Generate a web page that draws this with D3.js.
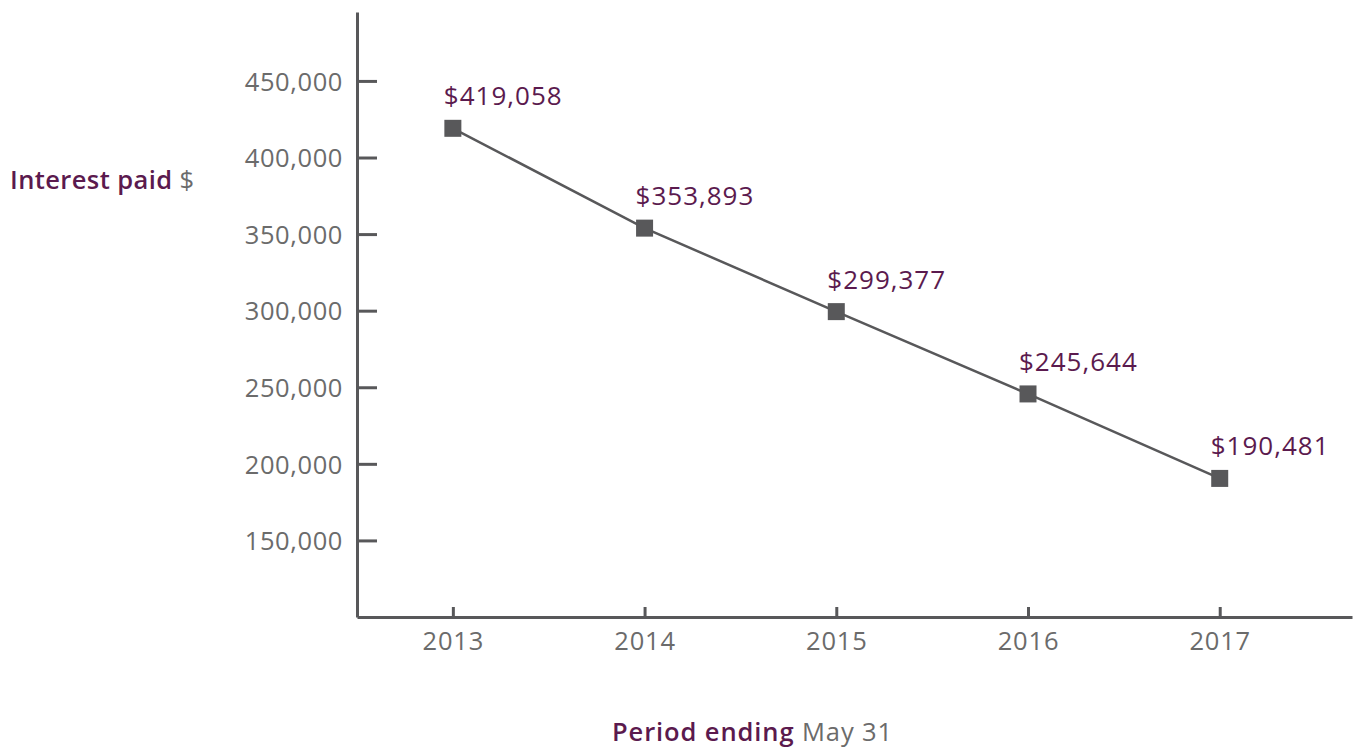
<!DOCTYPE html>
<html lang="en">
<head>
    <meta charset="UTF-8">
    <title>Interest paid</title>
    <script src="https://cdnjs.cloudflare.com/ajax/libs/d3/7.8.5/d3.min.js"></script>
    <style>
        * { margin: 0; padding: 0; box-sizing: border-box; }
        body {
            font-family: 'Open Sans', 'Noto Sans', sans-serif;
            background-color: #fff;
        }
        #chart { width: 1356px; height: 748px; }
        svg text { font-family: 'Open Sans', 'Noto Sans', sans-serif; }
        .tick text { fill: #6b6b6b; font-size: 25.5px; }
        .purple { fill: #5b1a4e; }
        .gray { fill: #6b6b6b; }
    </style>
</head>
<body>
    <div id="chart"></div>

    <script>
        // Data
        const years = [2013, 2014, 2015, 2016, 2017];
        const interestPaid = [419058, 353893, 299377, 245644, 190481];
        const yTicks = [150000, 200000, 250000, 300000, 350000, 400000, 450000];

        const width = 1356;
        const height = 748;
        const axisColor = '#58585a';

        const svg = d3.select('#chart')
            .append('svg')
            .attr('width', width)
            .attr('height', height);

        const x = d3.scaleLinear()
            .domain([2012.5, 2017.69])
            .range([357, 1352]);

        const y = d3.scaleLinear()
            .domain([100000, 495000])
            .range([617, 12]);

        const fmt = d3.format(',');

        // Y axis (ticks point inward)
        const yAxis = svg.append('g')
            .attr('transform', `translate(${x.range()[0]},0)`)
            .call(d3.axisRight(y).tickValues(yTicks).tickSize(20).tickSizeOuter(0).tickFormat(fmt))
            .attr('font-family', null);
        yAxis.select('.domain').attr('stroke', axisColor).attr('stroke-width', 3);
        yAxis.selectAll('.tick line').attr('stroke', axisColor).attr('stroke-width', 3);
        yAxis.selectAll('.tick text')
            .attr('x', -14)
            .attr('text-anchor', 'end')
            .attr('dy', '0.36em')
            .style('letter-spacing', '0.6px');

        // X axis (ticks point up)
        const xAxis = svg.append('g')
            .attr('transform', `translate(0,${y.range()[0]})`)
            .call(d3.axisTop(x).tickValues(years).tickSize(10).tickSizeOuter(0).tickFormat(d3.format('d')))
            .attr('font-family', null);
        xAxis.select('.domain').attr('stroke', axisColor).attr('stroke-width', 3);
        xAxis.selectAll('.tick line').attr('stroke', axisColor).attr('stroke-width', 3);
        xAxis.selectAll('.tick text')
            .attr('y', 33)
            .attr('dy', 0)
            .attr('text-anchor', 'middle')
            .style('letter-spacing', '0.8px');

        // Line
        const pts = years.map((yr, i) => ({ year: yr, value: interestPaid[i] }));

        svg.append('path')
            .datum(pts)
            .attr('fill', 'none')
            .attr('stroke', axisColor)
            .attr('stroke-width', 2.5)
            .attr('d', d3.line().x(d => x(d.year)).y(d => y(d.value)));

        // Markers
        const size = 17;
        svg.selectAll('.marker')
            .data(pts)
            .enter()
            .append('rect')
            .attr('class', 'marker')
            .attr('x', d => x(d.year) - size / 2)
            .attr('y', d => y(d.value) - size / 2)
            .attr('width', size)
            .attr('height', size)
            .attr('fill', axisColor);

        // Value labels
        svg.selectAll('.value-label')
            .data(pts)
            .enter()
            .append('text')
            .attr('class', 'value-label purple')
            .attr('x', d => x(d.year) - 9)
            .attr('y', d => y(d.value) - 23)
            .style('font-size', '26px')
            .style('letter-spacing', '1px')
            .text(d => '$' + fmt(d.value));

        // Axis titles
        const yTitle = svg.append('text')
            .attr('x', 10)
            .attr('y', 189)
            .style('font-size', '25.5px')
            .style('letter-spacing', '0.4px');
        yTitle.append('tspan').attr('class', 'purple').style('font-weight', 600).text('Interest paid');
        yTitle.append('tspan').attr('class', 'gray').text(' $');

        const xTitle = svg.append('text')
            .attr('x', 612)
            .attr('y', 741)
            .style('font-size', '25.5px')
            .style('letter-spacing', '0.9px');
        xTitle.append('tspan').attr('class', 'purple').style('font-weight', 600).text('Period ending');
        xTitle.append('tspan').attr('class', 'gray').text(' May 31');
    </script>
</body>
</html>
